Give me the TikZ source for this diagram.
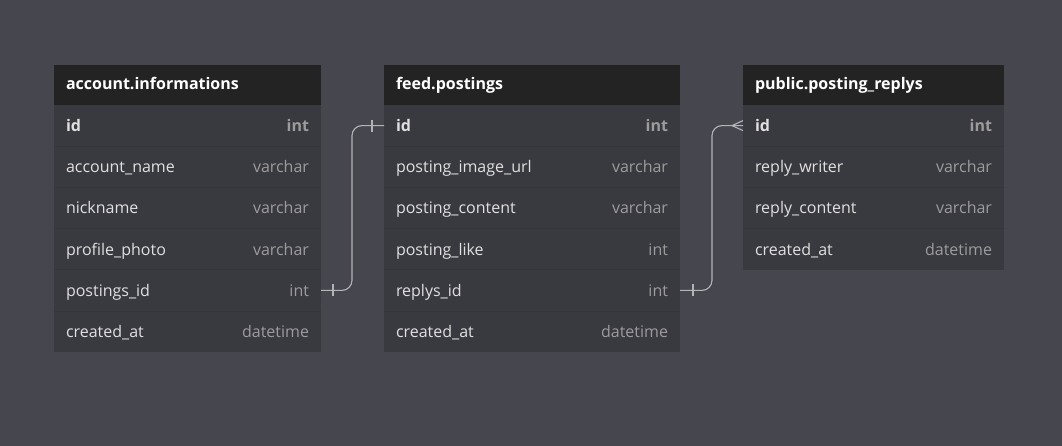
\documentclass[tikz,border=0pt]{standalone}
\usepackage{fontspec}
\setmainfont{Open Sans}
\definecolor{bgc}{HTML}{46464E}
\definecolor{hdrc}{HTML}{232323}
\definecolor{bodyc}{HTML}{393940}
\definecolor{sepc}{HTML}{35353C}
\definecolor{nametx}{HTML}{E0E0E0}
\definecolor{typetx}{HTML}{9C9C9C}
\definecolor{linkc}{HTML}{B4B4B8}
\tikzset{
  hdrbox/.style={fill=hdrc, text=white, font=\bfseries\fontsize{16}{19}\selectfont,
    anchor=north west, minimum height=40pt, inner xsep=12pt, inner ysep=0pt,
    outer sep=0pt, align=left, text height=13pt, text depth=4pt},
  rowbox/.style={fill=bodyc, text=nametx, font=\fontsize{16}{19}\selectfont,
    anchor=north west, minimum height=41.2pt, inner xsep=12pt, inner ysep=0pt,
    outer sep=0pt, align=left, text height=14pt, text depth=2pt},
  sepline/.style={draw=sepc, line width=0.8pt},
  link/.style={draw=linkc, line width=1.1pt},
}
\newcommand{\erdtable}[5]{%
  \pgfmathsetmacro\tw{#3-24}%
  \node[hdrbox, minimum width=#3pt, text width=\tw pt] (#1-h) at (#2,65) {#4};
  \foreach \n/\t [count=\i] in {#5} {
    \pgfmathsetmacro\yy{105+(\i-1)*41.2}
    \ifnum\i=1 \def\ff{\bfseries}\else\def\ff{}\fi
    \node[rowbox, minimum width=#3pt, text width=\tw pt] (#1-r\i) at (#2,\yy)
      {\ff\n\hfill\textcolor{typetx}{\t}};
    \ifnum\i>1 \draw[sepline] (#1-r\i.north west) -- (#1-r\i.north east); \fi
  }
}
\begin{document}
\begin{tikzpicture}[x=1pt,y=-1pt]
\fill[bgc] (0,0) rectangle (1062,446);
\useasboundingbox (0,0) rectangle (1062,446);
\erdtable{t1}{54}{267}{account.informations}{id/int, account\_name/varchar, nickname/varchar, profile\_photo/varchar, postings\_id/int, created\_at/datetime}
\erdtable{t2}{384}{296}{feed.postings}{id/int, posting\_image\_url/varchar, posting\_content/varchar, posting\_like/int, replys\_id/int, created\_at/datetime}
\erdtable{t3}{743}{261}{public.posting\_replys}{id/int, reply\_writer/varchar, reply\_content/varchar, created\_at/datetime}
% connector 1
\draw[link, rounded corners=10pt] (t1-r5.east) -- ++(31,0) |- (t2-r1.west);
\draw[link] ([xshift=12pt]t1-r5.east) ++(0,-6) -- ++(0,12);
\draw[link] ([xshift=-12pt]t2-r1.west) ++(0,-6) -- ++(0,12);
% connector 2
\draw[link, rounded corners=10pt] (t2-r5.east) -- ++(32,0) |- (t3-r1.west);
\draw[link] ([xshift=13pt]t2-r5.east) ++(0,-6) -- ++(0,12);
\draw[link] ([xshift=-11pt]t3-r1.west) -- ([yshift=-5pt]t3-r1.west);
\draw[link] ([xshift=-11pt]t3-r1.west) -- ([yshift=5pt]t3-r1.west);
\end{tikzpicture}
\end{document}
